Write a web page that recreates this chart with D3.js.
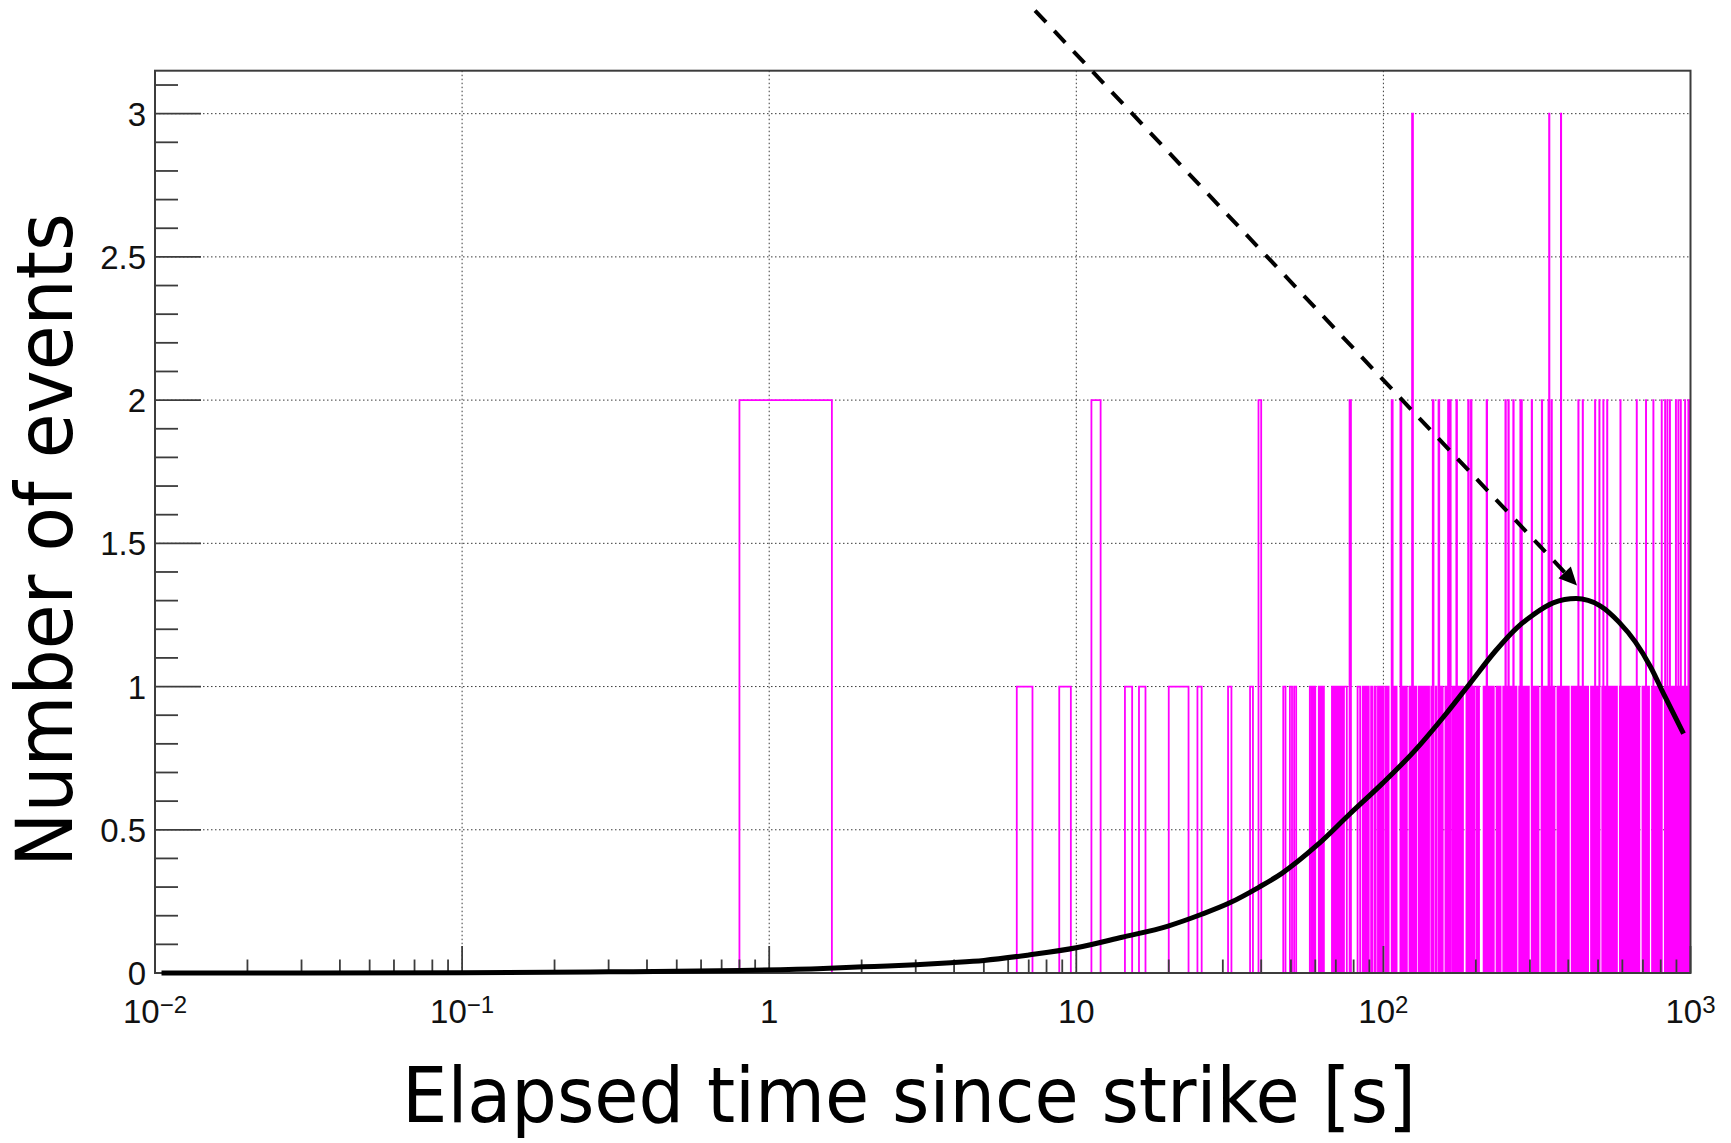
<!DOCTYPE html>
<html>
<head>
<meta charset="utf-8">
<script src="https://cdn.jsdelivr.net/npm/d3@7"></script>
<style>
  html, body { margin: 0; padding: 0; background: #ffffff; }
  svg { display: block; }
</style>
</head>
<body>
<svg id="chart" width="1731" height="1143"></svg>
<script>
// ---- Histogram: uniform bins of 0.8 s from 0 to 1000 s ----
const binWidth = 0.8;
const binCount = 1250;

// bin indices holding three events
const binsWithThree = [155, 433, 473];

// bin indices holding two events
const binsWithTwo = [
  1, 14, 49, 97, 133, 142, 181, 189, 203, 206, 216, 236, 241, 271,
  312, 319, 331, 349, 352, 380, 410, 431, 441, 539, 557, 611, 631, 650,
  669, 739, 835, 895, 946, 1007, 1033, 1051, 1071, 1120, 1141, 1162,
  1200, 1230, 1248
];

// bin indices holding one event
const binsWithOne = [
  8, 11, 18, 20, 25, 26, 27, 28, 31, 39, 46, 59, 62, 64,
  72, 74, 77, 79, 85, 87, 89, 91, 93, 94, 103, 104, 107, 109, 111,
  114, 117, 120, 122, 124, 127, 129,
  135, 137, 144, 146, 148, 152, 157, 159, 163, 165, 168, 171, 173, 175,
  179, 185, 192, 194, 199, 201, 210, 212, 214, 219, 221, 224, 226, 233,
  238, 244, 246, 251, 253, 255, 265, 267, 274, 278, 280, 283, 285, 292,
  294, 297,
  300, 307, 311, 315, 322, 326, 330, 334, 338, 346, 350, 354, 358, 363,
  367, 371, 380, 385, 390, 394, 399, 409, 414, 419, 424, 429, 434, 439,
  445, 450, 461, 467, 472, 478, 484, 489, 495, 501, 513, 520, 526, 532,
  539, 545, 552, 565, 572, 579, 593, 600, 607, 615, 622, 630, 645, 653,
  660, 668, 677, 685, 693, 702, 710, 719, 736, 745, 754, 763, 773, 782,
  791, 801, 811, 821, 831, 841, 851, 872, 882, 893, 904, 915, 937, 948,
  960, 971, 983, 995, 1031, 1044, 1056, 1069, 1082, 1095, 1108, 1122,
  1135, 1149, 1163, 1177, 1191, 1205, 1220, 1235, 1249
];

// ---- Expected-count curve (time in s, events per bin) ----
const curveTime = [
  0.0105, 0.1, 0.3, 0.8, 1.5, 2.2, 3.0, 3.9, 5.0, 7.0, 10, 14.1, 19.9,
  25.6, 31.6, 39.4, 46.7, 60.8, 77.7, 99.3, 127, 160, 191, 232, 272,
  307, 357, 424, 508, 585, 662, 740, 823, 949
];
const curveValue = [
  0.000, 0.001, 0.004, 0.009, 0.016, 0.023, 0.029, 0.036, 0.044, 0.063,
  0.088, 0.125, 0.164, 0.205, 0.245, 0.300, 0.348, 0.446, 0.555, 0.662,
  0.778, 0.905, 1.010, 1.125, 1.205, 1.250, 1.292, 1.307, 1.282, 1.225,
  1.155, 1.070, 0.968, 0.836
];

// ---- Axes ----
const xDomain = [0.01, 1000];
const yDomain = [0, 3.15];
const xTickBases = ["10", "10", "1", "10", "10", "10"];
const xTickPowers = ["\u22122", "\u22121", "", "", "2", "3"];
const xTickValues = [0.01, 0.1, 1, 10, 100, 1000];
const yTickValues = [0, 0.5, 1, 1.5, 2, 2.5, 3];
const yTickLabels = ["0", "0.5", "1", "1.5", "2", "2.5", "3"];

const xTitle = "Elapsed time since strike [s]";
const yTitle = "Number of events";

// dashed pointer towards the curve maximum: [time, events]
const arrowFrom = [7.34, 3.36];
const arrowTo = [427, 1.353];

// ------------------------------------------------------------
const W = 1731, H = 1143;
const frame = { left: 155, right: 1690.5, top: 70.7, bottom: 973 };

const x = d3.scaleLog().domain(xDomain).range([frame.left, frame.right]);
const y = d3.scaleLinear().domain(yDomain).range([frame.bottom, frame.top]);

const svg = d3.select("#chart");
svg.append("rect").attr("width", W).attr("height", H).attr("fill", "#ffffff");

svg.append("defs").append("clipPath").attr("id", "frameClip")
  .append("rect")
  .attr("x", frame.left).attr("y", frame.top)
  .attr("width", frame.right - frame.left)
  .attr("height", frame.bottom - frame.top);

// grid lines (dotted) at interior major ticks
const grid = svg.append("g")
  .attr("stroke", "#3a3a3a").attr("stroke-width", 1)
  .attr("stroke-dasharray", "1.5,2.5").attr("fill", "none");
grid.selectAll("line.gx")
  .data(xTickValues.filter(v => v > xDomain[0] && v < xDomain[1]))
  .join("line").attr("class", "gx")
  .attr("x1", d => x(d)).attr("x2", d => x(d))
  .attr("y1", frame.top).attr("y2", frame.bottom);
grid.selectAll("line.gy")
  .data(yTickValues.filter(v => v > 0))
  .join("line").attr("class", "gy")
  .attr("x1", frame.left).attr("x2", frame.right)
  .attr("y1", d => y(d)).attr("y2", d => y(d));

// histogram contents
const counts = new Array(binCount).fill(0);
binsWithOne.forEach(i => { counts[i] = Math.max(counts[i], 1); });
binsWithTwo.forEach(i => { counts[i] = Math.max(counts[i], 2); });
binsWithThree.forEach(i => { counts[i] = Math.max(counts[i], 3); });

const edgeX = i => x(Math.max(i * binWidth, xDomain[0]));
const outline = [[edgeX(0), y(0)]];
counts.forEach((c, i) => {
  outline.push([edgeX(i), y(c)]);
  outline.push([edgeX(i + 1), y(c)]);
});
outline.push([edgeX(binCount), y(0)]);

svg.append("path")
  .attr("clip-path", "url(#frameClip)")
  .attr("d", d3.line()(outline))
  .attr("fill", "none")
  .attr("stroke", "#ff00ff")
  .attr("stroke-width", 1.8)
  .attr("stroke-linejoin", "miter");

// frame
svg.append("rect")
  .attr("x", frame.left).attr("y", frame.top)
  .attr("width", frame.right - frame.left)
  .attr("height", frame.bottom - frame.top)
  .attr("fill", "none").attr("stroke", "#3c3c3c").attr("stroke-width", 2);

// ticks
const ticks = svg.append("g").attr("stroke", "#3c3c3c").attr("stroke-width", 1.8);
const xMajorLen = 27, xMinorLen = 13.5, yMajorLen = 46, yMinorLen = 23;
const isDecade = v => Math.abs(Math.log10(v) - Math.round(Math.log10(v))) < 1e-9;
ticks.selectAll("line.tx")
  .data(x.ticks())
  .join("line").attr("class", "tx")
  .attr("x1", d => x(d)).attr("x2", d => x(d))
  .attr("y1", frame.bottom)
  .attr("y2", d => frame.bottom - (isDecade(d) ? xMajorLen : xMinorLen));
const yMajorSet = new Set(yTickValues.map(v => v.toFixed(1)));
ticks.selectAll("line.ty")
  .data(y.ticks(31))
  .join("line").attr("class", "ty")
  .attr("y1", d => y(d)).attr("y2", d => y(d))
  .attr("x1", frame.left)
  .attr("x2", d => frame.left + (yMajorSet.has(d.toFixed(1)) ? yMajorLen : yMinorLen));

// tick labels
const labelFont = "'Liberation Sans', Arial, Helvetica, sans-serif";
svg.append("g").selectAll("text")
  .data(yTickValues)
  .join("text")
  .attr("x", frame.left - 9)
  .attr("y", d => y(d) + 12)
  .attr("text-anchor", "end")
  .attr("font-family", labelFont)
  .attr("font-size", 33)
  .attr("fill", "#111")
  .text((d, i) => yTickLabels[i]);

const xl = svg.append("g").selectAll("text")
  .data(xTickValues)
  .join("text")
  .attr("x", d => x(d))
  .attr("y", 1023)
  .attr("text-anchor", "middle")
  .attr("font-family", labelFont)
  .attr("font-size", 33)
  .attr("fill", "#111");
xl.append("tspan").text((d, i) => xTickBases[i]);
xl.append("tspan")
  .attr("font-size", 24)
  .attr("dy", -10)
  .text((d, i) => xTickPowers[i]);

// axis titles
const titleFont = "'DejaVu Sans', Verdana, sans-serif";
svg.append("text")
  .attr("x", 402).attr("y", 1122)
  .attr("font-family", titleFont)
  .attr("font-size", 76)
  .attr("fill", "#000")
  .attr("textLength", 1014)
  .attr("lengthAdjust", "spacingAndGlyphs")
  .text(xTitle);

svg.append("text")
  .attr("transform", "translate(72,867) rotate(-90)")
  .attr("font-family", titleFont)
  .attr("font-size", 78)
  .attr("fill", "#000")
  .attr("textLength", 654)
  .attr("lengthAdjust", "spacingAndGlyphs")
  .text(yTitle);

// expected-count curve
const curvePoints = curveTime.map((t, i) => [x(t), y(curveValue[i])]);
svg.append("path")
  .attr("d", d3.line().curve(d3.curveMonotoneX)(curvePoints))
  .attr("fill", "none")
  .attr("stroke", "#000")
  .attr("stroke-width", 5)
  .attr("stroke-linejoin", "round")
  .attr("stroke-linecap", "butt");

// dashed pointer with arrow head
const p0 = [x(arrowFrom[0]), y(arrowFrom[1])];
const p1 = [x(arrowTo[0]), y(arrowTo[1])];
const dx = p1[0] - p0[0], dy = p1[1] - p0[1];
const len = Math.hypot(dx, dy);
const ux = dx / len, uy = dy / len;
const headLen = 18, headHalf = 8.5;
const base = [p1[0] - ux * headLen, p1[1] - uy * headLen];
svg.append("line")
  .attr("x1", p0[0]).attr("y1", p0[1])
  .attr("x2", base[0] + ux * 2).attr("y2", base[1] + uy * 2)
  .attr("stroke", "#000").attr("stroke-width", 4)
  .attr("stroke-dasharray", "16,12");
svg.append("path")
  .attr("d", d3.line()([
    p1,
    [base[0] - uy * headHalf, base[1] + ux * headHalf],
    [base[0] + uy * headHalf, base[1] - ux * headHalf]
  ]) + "Z")
  .attr("fill", "#000");
</script>
</body>
</html>
